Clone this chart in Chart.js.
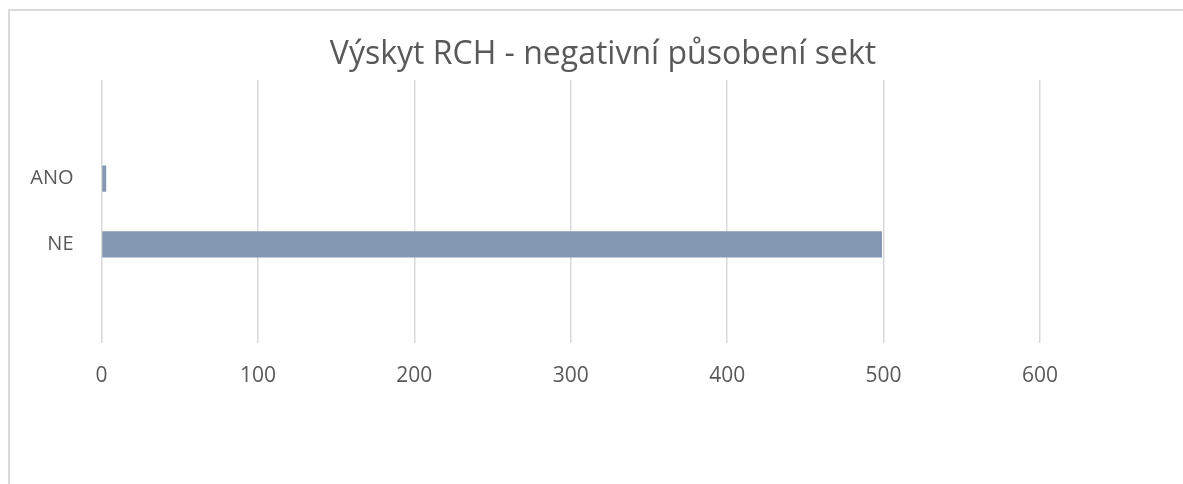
<!DOCTYPE html>
<html>
<head>
<meta charset="utf-8">
<script src="https://cdn.jsdelivr.net/npm/chart.js@4/dist/chart.umd.min.js"></script>
<style>
  html, body { margin: 0; padding: 0; background: #fff; overflow: hidden; }
  #frame {
    position: absolute; left: 8px; top: 9px;
    width: 1300px; height: 600px;
    border: 2px solid #d9d9d9;
  }
  #chart { position: absolute; left: 0; top: 0; }
</style>
</head>
<body>
<div id="frame"></div>
<canvas id="chart" width="1183" height="484"></canvas>
<script>
// categories (blank rows top and bottom, as in the source sheet)
const categories = ['', 'ANO', 'NE', ''];
const counts = [null, 3, 499, null];
const xMin = 0;
const xMax = 600;
const xStep = 100;

const titleText = 'Výskyt RCH - negativní působení sekt';
const textColor = '#595959';
const gridColor = '#d9d9d9';

const ctx = document.getElementById('chart').getContext('2d');

new Chart(ctx, {
  type: 'bar',
  data: {
    labels: categories,
    datasets: [{
      label: 'Počet',
      data: counts,
      backgroundColor: '#8497b0',
      borderWidth: 0,
      barPercentage: 0.4,
      categoryPercentage: 1
    }]
  },
  options: {
    indexAxis: 'y',
    responsive: false,
    animation: false,
    layout: { padding: { left: 23, right: 0, top: 0, bottom: 0 } },
    plugins: {
      legend: { display: false },
      tooltip: { enabled: false },
      title: {
        display: true,
        text: titleText,
        color: textColor,
        font: { family: 'Open Sans', size: 32, weight: 'normal', lineHeight: 1.2 },
        padding: { top: 36, bottom: 5.6 }
      }
    },
    scales: {
      x: {
        min: xMin,
        max: xMax,
        ticks: {
          stepSize: xStep,
          color: textColor,
          padding: 20,
          font: { family: 'Open Sans', size: 21 }
        },
        grid: { color: gridColor, lineWidth: 1.5, drawTicks: false },
        border: { display: false },
        afterFit(scale) { scale.height = 141; }
      },
      y: {
        ticks: {
          color: textColor,
          padding: 28,
          font: { family: 'Open Sans', size: 20 }
        },
        grid: { display: false, drawTicks: false },
        border: { display: false },
        afterFit(scale) { scale.width = 78.5; }
      },
      y2: {
        type: 'category',
        labels: categories,
        position: 'right',
        ticks: { display: false },
        grid: { display: false, drawTicks: false },
        border: { display: false },
        afterFit(scale) { scale.width = 143; }
      }
    }
  }
});
</script>
</body>
</html>
